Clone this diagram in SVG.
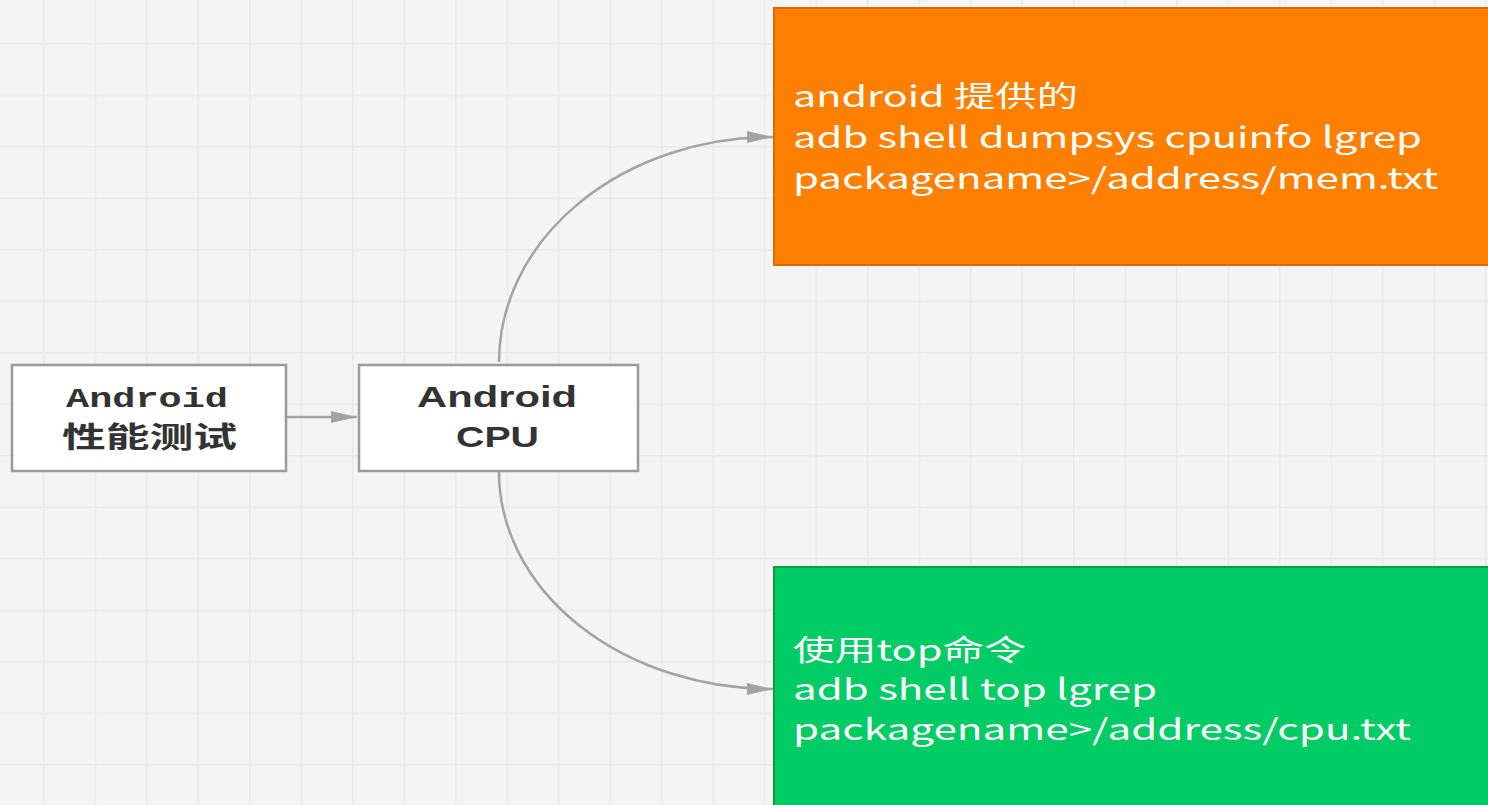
<svg xmlns="http://www.w3.org/2000/svg" width="1488" height="805" viewBox="0 0 1488 805">
<style>
.box{fill:#ffffff;stroke:#9a9a9a;stroke-width:2.5}
.conn{fill:none;stroke:#a3a3a3;stroke-width:2.5}
.mono{font-family:"Liberation Mono","Noto Sans CJK SC",monospace;font-weight:bold;fill:#333333}
.cjkl{font-family:"Noto Sans CJK SC",sans-serif;font-weight:bold;fill:#333333}
.sans{font-family:"Liberation Sans","Noto Sans CJK SC",sans-serif;font-weight:bold;fill:#333333}
.wt{font-family:"Noto Sans CJK SC",sans-serif;fill:#ffffff;font-size:29px}
</style>
<defs>
<pattern id="grid" x="43" y="43" width="51.5" height="51.5" patternUnits="userSpaceOnUse">
<path d="M0,0 H51.5 M0,0 V51.5" stroke="#e9e9e9" stroke-width="3" fill="none"/>
</pattern>
<marker id="arr" markerWidth="26" markerHeight="14" refX="26" refY="7" orient="auto" markerUnits="userSpaceOnUse">
<path d="M0,1 L26,7 L0,13 Z" fill="#a3a3a3"/>
</marker>
</defs>
<rect width="1488" height="805" fill="#f4f4f4"/>
<rect width="1488" height="805" fill="url(#grid)"/>

<g id="connectors">
<path class="conn" d="M287,417 L357,417" marker-end="url(#arr)"/>
<path class="conn" d="M499,362 A274,225 0 0 1 773,137" marker-end="url(#arr)"/>
<path class="conn" d="M499,472 A274,217 0 0 0 773,689" marker-end="url(#arr)"/>
</g>

<g id="node-perf">
<rect class="box" x="12" y="365" width="274" height="106"/>
<text class="mono" x="66" y="407" font-size="28" textLength="162" lengthAdjust="spacingAndGlyphs">Android</text>
<text class="cjkl" x="62" y="448" font-size="29" textLength="175" lengthAdjust="spacingAndGlyphs">性能测试</text>
</g>

<g id="node-cpu">
<rect class="box" x="359" y="365" width="279" height="106"/>
<text class="sans" x="417" y="407" font-size="30" textLength="160" lengthAdjust="spacingAndGlyphs">Android</text>
<text class="sans" x="456" y="447" font-size="30" textLength="83" lengthAdjust="spacingAndGlyphs">CPU</text>
</g>

<g id="node-dumpsys">
<rect x="774" y="8" width="720" height="257" fill="#ff8000" stroke="#d86c00" stroke-width="2"/>
<text class="wt" x="793" y="107" textLength="285" lengthAdjust="spacingAndGlyphs">android 提供的</text>
<text class="wt" x="793" y="148" textLength="629" lengthAdjust="spacingAndGlyphs">adb shell dumpsys cpuinfo lgrep</text>
<text class="wt" x="793" y="189" textLength="645" lengthAdjust="spacingAndGlyphs">packagename&gt;/address/mem.txt</text>
</g>

<g id="node-top">
<rect x="774" y="567" width="720" height="250" fill="#00cc66" stroke="#0a9e3c" stroke-width="2"/>
<text class="wt" x="793" y="661" textLength="233" lengthAdjust="spacingAndGlyphs">使用top命令</text>
<text class="wt" x="793" y="700" textLength="364" lengthAdjust="spacingAndGlyphs">adb shell top lgrep</text>
<text class="wt" x="793" y="740" textLength="618" lengthAdjust="spacingAndGlyphs">packagename&gt;/address/cpu.txt</text>
</g>
</svg>
